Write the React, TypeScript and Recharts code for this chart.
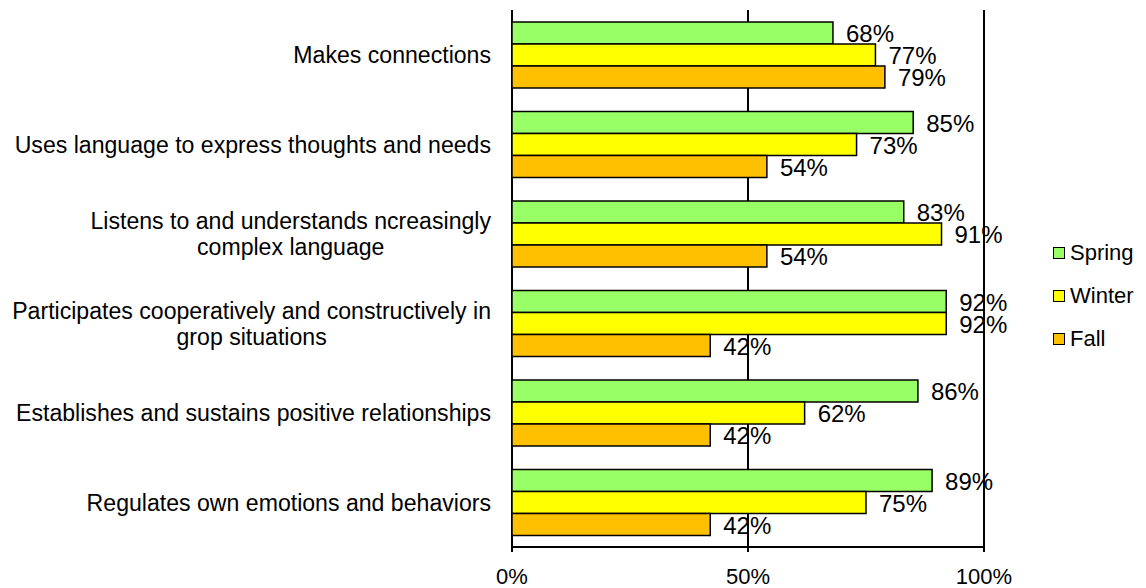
import React from 'react';
import { BarChart, Bar, XAxis, YAxis, CartesianGrid, Legend, LabelList } from 'recharts';

const categories = [
  'Makes connections',
  'Uses language to express thoughts and needs',
  'Listens to and understands ncreasingly\ncomplex language',
  'Participates cooperatively and constructively in\ngrop situations',
  'Establishes and sustains positive relationships',
  'Regulates own emotions and behaviors',
];
const spring = [68, 85, 83, 92, 86, 89];
const winter = [77, 73, 91, 92, 62, 75];
const fall = [79, 54, 54, 42, 42, 42];
const xTicks = [0, 50, 100];
const seriesNames = ['Spring', 'Winter', 'Fall'];
const seriesColors = ['#99FF66', '#FFFF00', '#FFC000'];

const data = categories.map((c, i) => ({ category: c, Spring: spring[i], Winter: winter[i], Fall: fall[i] }));
const boundaryTicks = [0, ...categories.map((_, i) => i + 1)];

const FONT = '"Liberation Sans", Arial, sans-serif';

let ctx: CanvasRenderingContext2D | null = null;
function measure(text: string, size: number) {
  if (!ctx) ctx = document.createElement('canvas').getContext('2d');
  if (!ctx) return text.length * size * 0.5;
  ctx.font = `${size}px "Liberation Sans"`;
  return ctx.measureText(text).width;
}

const CategoryTick = (props: any) => {
  const { x, y, payload } = props;
  const lines = String(payload.value).split('\n');
  const size = 23.1;
  const lh = 26;
  const maxW = Math.max(...lines.map((l) => measure(l, size)));
  const multi = lines.length > 1;
  return (
    <text fontSize={size} fontFamily={FONT} fill="#000" textAnchor={multi ? 'middle' : 'end'}>
      {lines.map((l, i) => (
        <tspan key={i} x={multi ? x - maxW / 2 : x} y={y + (i - (lines.length - 1) / 2) * lh} dy="0.36em">
          {l}
        </tspan>
      ))}
    </text>
  );
};

const ValueLabel = (props: any) => {
  const { x, y, width, height, value } = props;
  return (
    <text x={x + width + 13} y={y + height / 2} dy="0.38em" fontSize={24} fontFamily={FONT} fill="#000">
      {value}%
    </text>
  );
};

const LegendContent = (props: any) => {
  const payload = [...(props.payload || [])].sort(
    (a: any, b: any) => seriesNames.indexOf(a.value) - seriesNames.indexOf(b.value)
  );
  return (
    <div style={{ fontFamily: FONT, fontSize: 22, color: '#000', whiteSpace: 'nowrap' }}>
      {payload.map((p: any) => (
        <div key={p.value} style={{ display: 'flex', alignItems: 'center', height: 43 }}>
          <span
            style={{
              display: 'inline-block',
              flex: 'none',
              width: 12,
              height: 12,
              boxSizing: 'border-box',
              border: '1px solid #000',
              background: p.color,
              marginRight: 5,
            }}
          />
          <span>{p.value}</span>
        </div>
      ))}
    </div>
  );
};

export default function App() {
  return (
    <BarChart
      width={1138}
      height={580}
      data={data}
      layout="vertical"
      margin={{ top: 2, right: 162, bottom: 11, left: 0 }}
      barCategoryGap="13.5%"
      barGap={0}
    >
      <CartesianGrid horizontal={false} stroke="#000" strokeWidth={2} yAxisId="cat" />
      <YAxis
        yAxisId="bounds"
        type="number"
        domain={[0, categories.length]}
        ticks={boundaryTicks}
        tick={false}
        width={0}
        tickSize={6}
        stroke="#000"
        strokeWidth={2}
        allowDataOverflow
      />
      <YAxis
        yAxisId="cat"
        type="category"
        dataKey="category"
        width={504}
        axisLine={false}
        tickLine={false}
        tickSize={0}
        tickMargin={21}
        interval={0}
        tick={<CategoryTick />}
      />
      <XAxis
        type="number"
        domain={[0, 100]}
        ticks={xTicks}
        interval={0}
        tickFormatter={(v: number) => `${v}%`}
        height={30}
        tickSize={5}
        tickMargin={16}
        stroke="#000"
        strokeWidth={2}
        tick={{ fontSize: 22, fontFamily: FONT, fill: '#000' }}
      />
      <Legend
        layout="horizontal"
        verticalAlign="middle"
        align="center"
        itemSorter={null}
        content={<LegendContent />}
        wrapperStyle={{ position: 'absolute', left: 1045, top: 223, width: 86, overflow: 'visible' }}
      />
      {seriesNames.map((n, i) => (
        <Bar
          key={n}
          yAxisId="cat"
          dataKey={n}
          name={n}
          fill={seriesColors[i]}
          stroke="#000"
          strokeWidth={1.5}
          isAnimationActive={false}
        >
          <LabelList dataKey={n} content={<ValueLabel />} />
        </Bar>
      ))}
    </BarChart>
  );
}
